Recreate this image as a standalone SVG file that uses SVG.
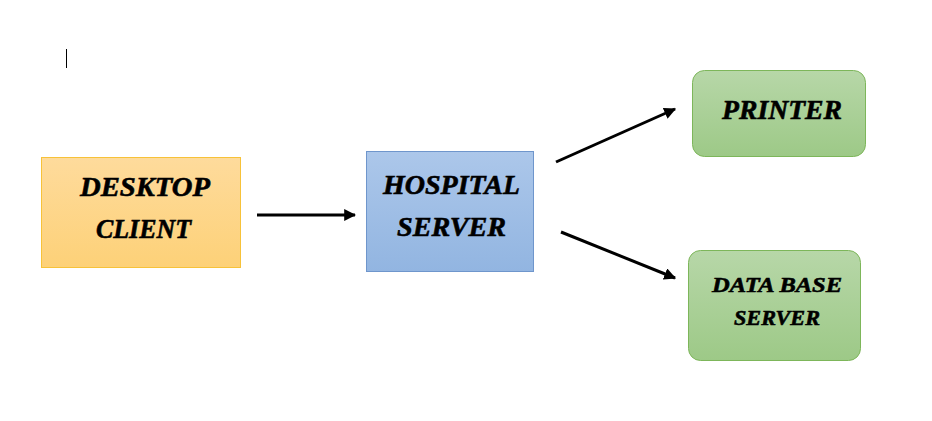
<svg xmlns="http://www.w3.org/2000/svg" width="932" height="421" viewBox="0 0 932 421">
<style>
.t{font-family:"Liberation Serif","DejaVu Serif",serif;font-weight:bold;font-style:italic;fill:#000;stroke:#000;stroke-width:0.6;text-anchor:middle}
.c{stroke:#000;stroke-width:3;fill:none;marker-end:url(#ah)}
</style>
<defs>
<linearGradient id="gy" x1="0" y1="0" x2="0" y2="1"><stop offset="0" stop-color="#fedb9c"/><stop offset="1" stop-color="#fdd178"/></linearGradient>
<linearGradient id="gb" x1="0" y1="0" x2="0" y2="1"><stop offset="0" stop-color="#acc7ea"/><stop offset="1" stop-color="#92b5e1"/></linearGradient>
<linearGradient id="gg" x1="0" y1="0" x2="0" y2="1"><stop offset="0" stop-color="#b7d7a8"/><stop offset="1" stop-color="#9dc987"/></linearGradient>
<marker id="ah" viewBox="0 0 10 10" refX="9" refY="5" markerWidth="4" markerHeight="4" orient="auto" markerUnits="strokeWidth"><path d="M0,0 L10,5 L0,10 z" fill="#000"/></marker>
</defs>
<rect width="932" height="421" fill="#fff"/>
<line x1="66.5" y1="49" x2="66.5" y2="68" stroke="#000" stroke-width="1"/>
<g id="connectors">
<line class="c" x1="257" y1="215" x2="355" y2="215"/>
<line class="c" x1="556" y1="162" x2="675" y2="109"/>
<line class="c" x1="561" y1="232" x2="675" y2="278"/>
</g>
<g id="desktop-client">
<rect x="41.5" y="157.5" width="199" height="110" fill="url(#gy)" stroke="#f7c239"/>
<text class="t" x="145" y="196" font-size="28" textLength="130" lengthAdjust="spacingAndGlyphs">DESKTOP</text>
<text class="t" x="143.5" y="238" font-size="28" textLength="95" lengthAdjust="spacingAndGlyphs">CLIENT</text>
</g>
<g id="hospital-server">
<rect x="366.5" y="151.5" width="167" height="120" fill="url(#gb)" stroke="#6f96cc"/>
<text class="t" x="451.5" y="194" font-size="28" textLength="137" lengthAdjust="spacingAndGlyphs">HOSPITAL</text>
<text class="t" x="451.5" y="236" font-size="28" textLength="109" lengthAdjust="spacingAndGlyphs">SERVER</text>
</g>
<g id="printer">
<rect x="692.5" y="70.5" width="173" height="86" rx="12" fill="url(#gg)" stroke="#7db65a"/>
<text class="t" x="782" y="119" font-size="28" textLength="120" lengthAdjust="spacingAndGlyphs">PRINTER</text>
</g>
<g id="database-server">
<rect x="688.5" y="250.5" width="172" height="110" rx="12" fill="url(#gg)" stroke="#7db65a"/>
<text class="t" x="777" y="292" font-size="22" textLength="130" lengthAdjust="spacingAndGlyphs">DATA BASE</text>
<text class="t" x="777" y="325" font-size="22" textLength="86" lengthAdjust="spacingAndGlyphs">SERVER</text>
</g>
</svg>
